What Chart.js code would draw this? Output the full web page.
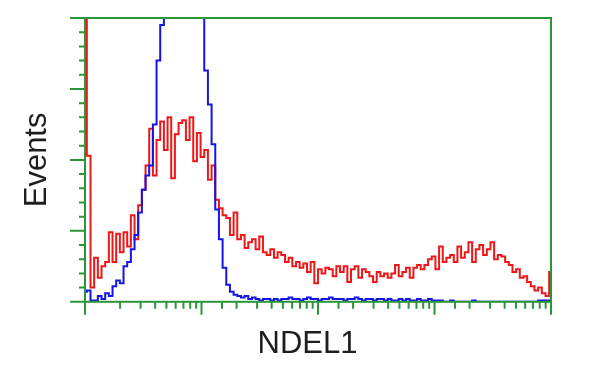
<!DOCTYPE html>
<html>
<head>
<meta charset="utf-8">
<script src="https://cdn.jsdelivr.net/npm/chart.js@4/dist/chart.umd.min.js"></script>
<style>
  html, body { margin: 0; padding: 0; background: #fff; }
  canvas { display: block; }
</style>
</head>
<body>
<canvas id="histChart" width="600" height="375"></canvas>
<script>
// histogram counts per channel (128 log-spaced channels over 4 decades)
const ndel1Counts = [
    300, 103, 10, 31, 17, 25, 28, 49, 28, 48,
    35, 49, 39, 61, 44, 68, 79, 96, 122, 89,
    114, 127, 107, 130, 87, 118, 126, 128, 114, 130,
    99, 119, 102, 107, 86, 96, 72, 66, 61, 59,
    47, 63, 44, 47, 38, 42, 44, 37, 46, 35,
    33, 37, 31, 35, 33, 28, 31, 25, 28, 24,
    27, 21, 28, 13, 23, 20, 24, 23, 18, 25,
    21, 25, 14, 23, 25, 17, 23, 21, 18, 14,
    21, 18, 20, 17, 20, 26, 18, 21, 24, 17,
    24, 26, 23, 26, 30, 32, 23, 39, 28, 31,
    33, 28, 39, 31, 35, 42, 28, 37, 40, 33,
    37, 42, 30, 33, 32, 28, 26, 21, 23, 17,
    18, 14, 11, 8, 10, 6, 4, 21
];
const controlCounts = [
    7, 8, 1, 1, 4, 2, 6, 4, 11, 15,
    13, 25, 28, 37, 47, 63, 79, 89, 96, 125,
    170, 195, 240, 265, 285, 300, 310, 305, 295, 280,
    260, 235, 215, 163, 139, 111, 65, 44, 24, 12,
    7, 5, 4, 3, 4, 2, 3, 2, 1, 2,
    2, 1, 2, 1, 2, 2, 3, 2, 2, 1,
    2, 3, 2, 2, 1, 2, 2, 3, 2, 2,
    2, 1, 2, 2, 3, 2, 1, 2, 2, 1,
    2, 2, 1, 2, 1, 1, 2, 1, 2, 1,
    1, 2, 1, 1, 2, 1, 1, 1, 0, 0,
    1, 0, 0, 0, 0, 0, 1, 0, 0, 0,
    0, 0, 0, 0, 0, 0, 0, 0, 0, 0,
    0, 0, 0, 0, 1, 1, 1, 1
];
const channels = ndel1Counts.map((_, i) => i);
const xRange = [1, 10000];   // fluorescence, log axis
const yRange = [0, 200];
const yStep = 10;
const yMajorStep = 50;

const frameColor = '#2a9638';

// green frame + long/short tick marks taken from the scales
const axisFrame = {
    id: 'axisFrame',
    afterDatasetsDraw(chart) {
        const { ctx, chartArea: a, scales } = chart;
        ctx.save();
        ctx.strokeStyle = frameColor;
        ctx.lineWidth = 2;
        ctx.strokeRect(a.left, a.top, a.right - a.left, a.bottom - a.top);
        ctx.beginPath();
        scales.xLog.ticks.forEach(t => {
            const px = scales.xLog.getPixelForValue(t.value);
            const len = t.major ? 13 : 7;
            ctx.moveTo(px, a.bottom);
            ctx.lineTo(px, a.bottom + len);
        });
        scales.y.ticks.forEach(t => {
            const py = scales.y.getPixelForValue(t.value);
            const len = t.value % yMajorStep === 0 ? 15 : 6;
            ctx.moveTo(a.left, py);
            ctx.lineTo(a.left - len, py);
        });
        ctx.stroke();
        ctx.restore();
    }
};

new Chart(document.getElementById('histChart'), {
    type: 'line',
    data: {
        labels: channels,
        datasets: [{
            label: 'NDEL1',
            data: ndel1Counts,
            borderColor: 'rgb(238, 22, 22)',
            borderWidth: 2,
            pointRadius: 0,
            stepped: 'middle',
            order: 2
        }, {
            label: 'Control',
            data: controlCounts,
            borderColor: 'rgb(20, 20, 230)',
            borderWidth: 2,
            pointRadius: 0,
            stepped: 'middle',
            order: 1
        }]
    },
    options: {
        responsive: false,
        animation: false,
        layout: { padding: { left: 15, right: 0, top: 18, bottom: 12 } },
        plugins: {
            legend: { display: false },
            tooltip: { enabled: false },
            subtitle: {
                display: true,
                position: 'bottom',
                text: 'NDEL1',
                color: '#1e1e1e',
                font: { family: 'Liberation Sans', size: 31, weight: 'normal' },
                padding: { top: 10, bottom: 0 }
            }
        },
        scales: {
            x: {
                type: 'linear',
                min: 0,
                max: channels.length - 1,
                grid: { display: false },
                border: { display: false },
                ticks: { display: false },
                afterFit(s) { s.height = 14; }
            },
            xLog: {
                type: 'logarithmic',
                display: false,
                position: 'bottom',
                min: xRange[0],
                max: xRange[1],
                ticks: { autoSkip: false }
            },
            y: {
                min: yRange[0],
                max: yRange[1],
                grid: { display: false },
                border: { display: false },
                ticks: { display: false, stepSize: yStep },
                title: {
                    display: true,
                    text: 'Events',
                    color: '#1e1e1e',
                    font: { family: 'Liberation Sans', size: 31 },
                    padding: { top: 4, bottom: 0 }
                },
                afterFit(s) { s.width = 70; }
            },
            yR: {
                position: 'right',
                grid: { display: false },
                border: { display: false },
                ticks: { display: false },
                afterFit(s) { s.width = 49; }
            }
        }
    },
    plugins: [axisFrame]
});
</script>
</body>
</html>
